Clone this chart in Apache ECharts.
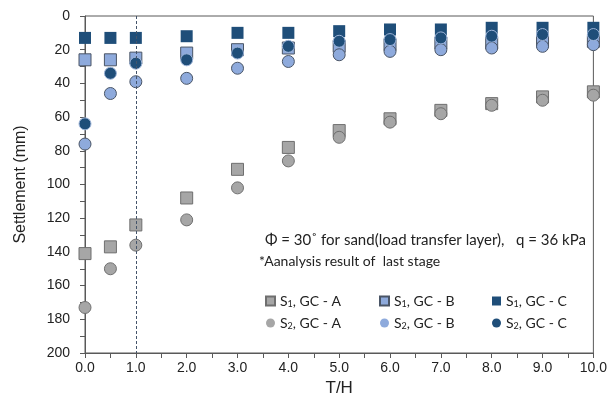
<!DOCTYPE html>
<html>
<head>
<meta charset="utf-8">
<script src="https://cdn.jsdelivr.net/npm/echarts@6/dist/echarts.min.js"></script>
<style>
  html, body { margin: 0; padding: 0; background: #fff; }
  #chart { width: 610px; height: 409px; }
</style>
</head>
<body>
<div id="chart"></div>
<script>
// T/H values
const tH = [0, 0.5, 1, 2, 3, 4, 5, 6, 7, 8, 9, 10];

// settlement (mm)
const s1GcA = [141, 137, 124, 108, 91, 78, 68, 61, 56, 52, 48, 45];
const s2GcA = [173, 150, 136, 121, 102, 86, 72, 63, 58, 53, 50, 47];
const s1GcB = [26, 26, 25, 22, 20, 19, 18, 17, 16, 16, 15, 15];
const s2GcB = [76, 46, 39, 37, 31, 27, 23, 21, 20, 19, 18, 17];
const s1GcC = [13, 13, 13, 12, 10, 10, 9, 8, 8, 7, 7, 7];
const s2GcC = [64, 34, 28, 26, 22, 18, 15, 14, 13, 12, 11, 11];

const refLineTH = 1;
const annotation1 = 'Φ = 30˚ for sand(load transfer layer),   q = 36 kPa';
const annotation2 = '*Aanalysis result of  last stage';

// 系列样式
const grayFill = '#a6a6a6', grayEdge = '#6f6f6f';
const blueFill = '#8eaadc', blueEdge = '#4a5566';
const navyFill = '#1f4e79', navyEdge = '#9db4d8';

const pairs = v => tH.map((t, i) => [t, v[i]]);

const mk = (name, data, symbol, fill, edge, bw) => ({
  name,
  type: 'scatter',
  data: pairs(data),
  symbol,
  symbolSize: 12,
  itemStyle: { color: fill, borderColor: edge, borderWidth: bw, opacity: 1 },
  emphasis: { disabled: true }
});

const series = [
  mk('S1, GC - A', s1GcA, 'rect', grayFill, grayEdge, 1),
  mk('S1, GC - B', s1GcB, 'rect', blueFill, blueEdge, 1),
  mk('S1, GC - C', s1GcC, 'rect', navyFill, navyFill, 0),
  mk('S2, GC - A', s2GcA, 'circle', grayFill, grayEdge, 1),
  mk('S2, GC - B', s2GcB, 'circle', blueFill, blueEdge, 1),
  mk('S2, GC - C', s2GcC, 'circle', navyFill, navyEdge, 1)
];

// dashed reference line at T/H = 1
series[0].markLine = {
  silent: true,
  symbol: 'none',
  label: { show: false },
  lineStyle: { color: '#44546a', type: [3, 2], width: 1 },
  data: [{ xAxis: refLineTH }]
};

// 下标格式
const subName = name => {
  const m = name.match(/^S(\d)(.*)$/);
  return '{a|S}{b|' + m[1] + '}{a|' + m[2] + '}';
};

const legendText = {
  fontFamily: 'Lato',
  color: '#222',
  rich: {
    a: { fontFamily: 'Lato', fontSize: 14, color: '#222' },
    b: { fontFamily: 'Lato', fontSize: 9, color: '#222', padding: [7, 0, 0, 0] }
  }
};

const legendCol = (left, names, icons, circleSize) => ({
  orient: 'vertical',
  left,
  top: 289,
  itemWidth: 9,
  itemHeight: 9,
  itemGap: 7,
  selectedMode: false,
  formatter: subName,
  textStyle: legendText,
  data: names.map((n, i) => ({
    name: n,
    icon: icons[i],
    itemStyle: icons[i] === 'circle' ? { borderWidth: 0 } : undefined
  }))
});

const chart = echarts.init(document.getElementById('chart'));

chart.setOption({
  animation: false,
  grid: {
    left: 85,
    right: 15,
    top: 16,
    bottom: 56,
    show: true,
    borderColor: '#595959',
    borderWidth: 1
  },
  xAxis: {
    type: 'value',
    min: 0,
    max: 10,
    interval: 1,
    name: 'T/H',
    nameLocation: 'middle',
    nameGap: 27,
    nameTextStyle: { fontFamily: 'Liberation Sans', fontSize: 17, color: '#222' },
    axisLine: { onZero: false, lineStyle: { color: '#595959' } },
    axisTick: { show: true, length: 5, lineStyle: { color: '#595959' } },
    minorTick: { show: true, splitNumber: 2, length: 5, lineStyle: { color: '#595959' } },
    splitLine: { show: false },
    axisLabel: {
      fontFamily: 'Liberation Sans',
      fontSize: 14,
      color: '#222',
      margin: 8,
      formatter: v => v.toFixed(1)
    }
  },
  yAxis: {
    type: 'value',
    inverse: true,
    min: 0,
    max: 200,
    interval: 20,
    name: 'Settlement (mm)',
    nameLocation: 'middle',
    nameGap: 56,
    nameTextStyle: { fontFamily: 'Liberation Sans', fontSize: 16, color: '#222' },
    axisLine: { show: true, onZero: false, lineStyle: { color: '#595959' } },
    axisTick: { show: true, length: 5, lineStyle: { color: '#595959' } },
    minorTick: { show: true, splitNumber: 2, length: 5, lineStyle: { color: '#595959' } },
    splitLine: { show: false },
    axisLabel: {
      fontFamily: 'Liberation Sans',
      fontSize: 14,
      color: '#222',
      margin: 15
    }
  },
  legend: [
    legendCol(260, ['S1, GC - A', 'S2, GC - A'], ['rect', 'circle']),
    legendCol(374, ['S1, GC - B', 'S2, GC - B'], ['rect', 'circle']),
    legendCol(487, ['S1, GC - C', 'S2, GC - C'], ['rect', 'circle'])
  ],
  graphic: [
    {
      type: 'text',
      left: 265,
      top: 233,
      style: { text: annotation1, fontFamily: 'Lato', fontSize: 15, fill: '#222' }
    },
    {
      type: 'text',
      left: 259,
      top: 254,
      style: { text: annotation2, fontFamily: 'Lato', fontSize: 14, fill: '#222' }
    }
  ],
  series
});
</script>
</body>
</html>
